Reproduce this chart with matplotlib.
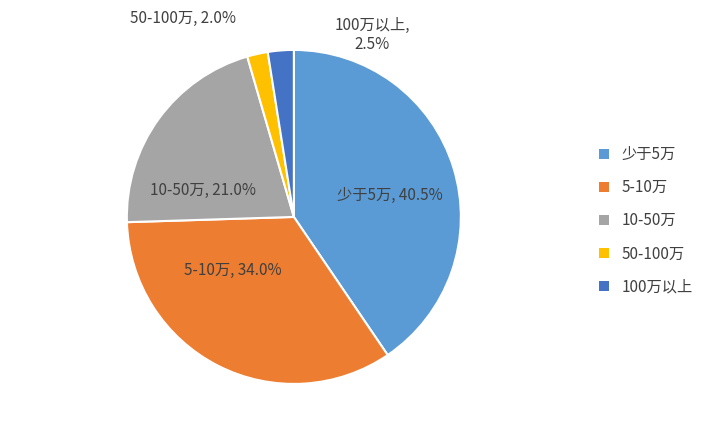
import matplotlib
matplotlib.use("Agg")
import matplotlib.pyplot as plt
from matplotlib.patches import Patch

plt.rcParams['font.family'] = ['Noto Sans CJK SC', 'DejaVu Sans']

categories = ['少于5万', '5-10万', '10-50万', '50-100万', '100万以上']
values = [40.5, 34.0, 21.0, 2.0, 2.5]
colors = ['#5B9BD5', '#ED7D31', '#A5A5A5', '#FFC000', '#4472C4']

fig = plt.figure(figsize=(7.22, 4.33), dpi=100)
ax = fig.add_axes([0.407 - 0.2313, 0.499 - 0.3857, 0.4626, 0.7714])
ax.pie(values, colors=colors, startangle=90, counterclock=False,
       wedgeprops=dict(edgecolor='white', linewidth=1.5))
ax.set_xlim(-1, 1); ax.set_ylim(-1, 1)
ax.set_aspect('equal')

label_pos = [(0.575, 0.13), (-0.365, -0.32), (-0.545, 0.16), (-0.665, 1.19), (0.47, 1.09)]
for i, (c, v) in enumerate(zip(categories, values)):
    txt = f"{c}, {v:.1f}%" if i != 4 else f"{c},\n{v:.1f}%"
    ax.text(*label_pos[i], txt, ha='center', va='center', fontsize=11,
            color='#404040', linespacing=1.1, clip_on=False)

handles = [Patch(facecolor=col) for col in colors]
fig.legend(handles, categories, loc='center left', bbox_to_anchor=(0.81, 0.49),
           frameon=False, fontsize=11, handlelength=0.7, handleheight=0.7,
           labelspacing=1.05, labelcolor='#404040')
fig.savefig('out.png', dpi=100, facecolor='white')
